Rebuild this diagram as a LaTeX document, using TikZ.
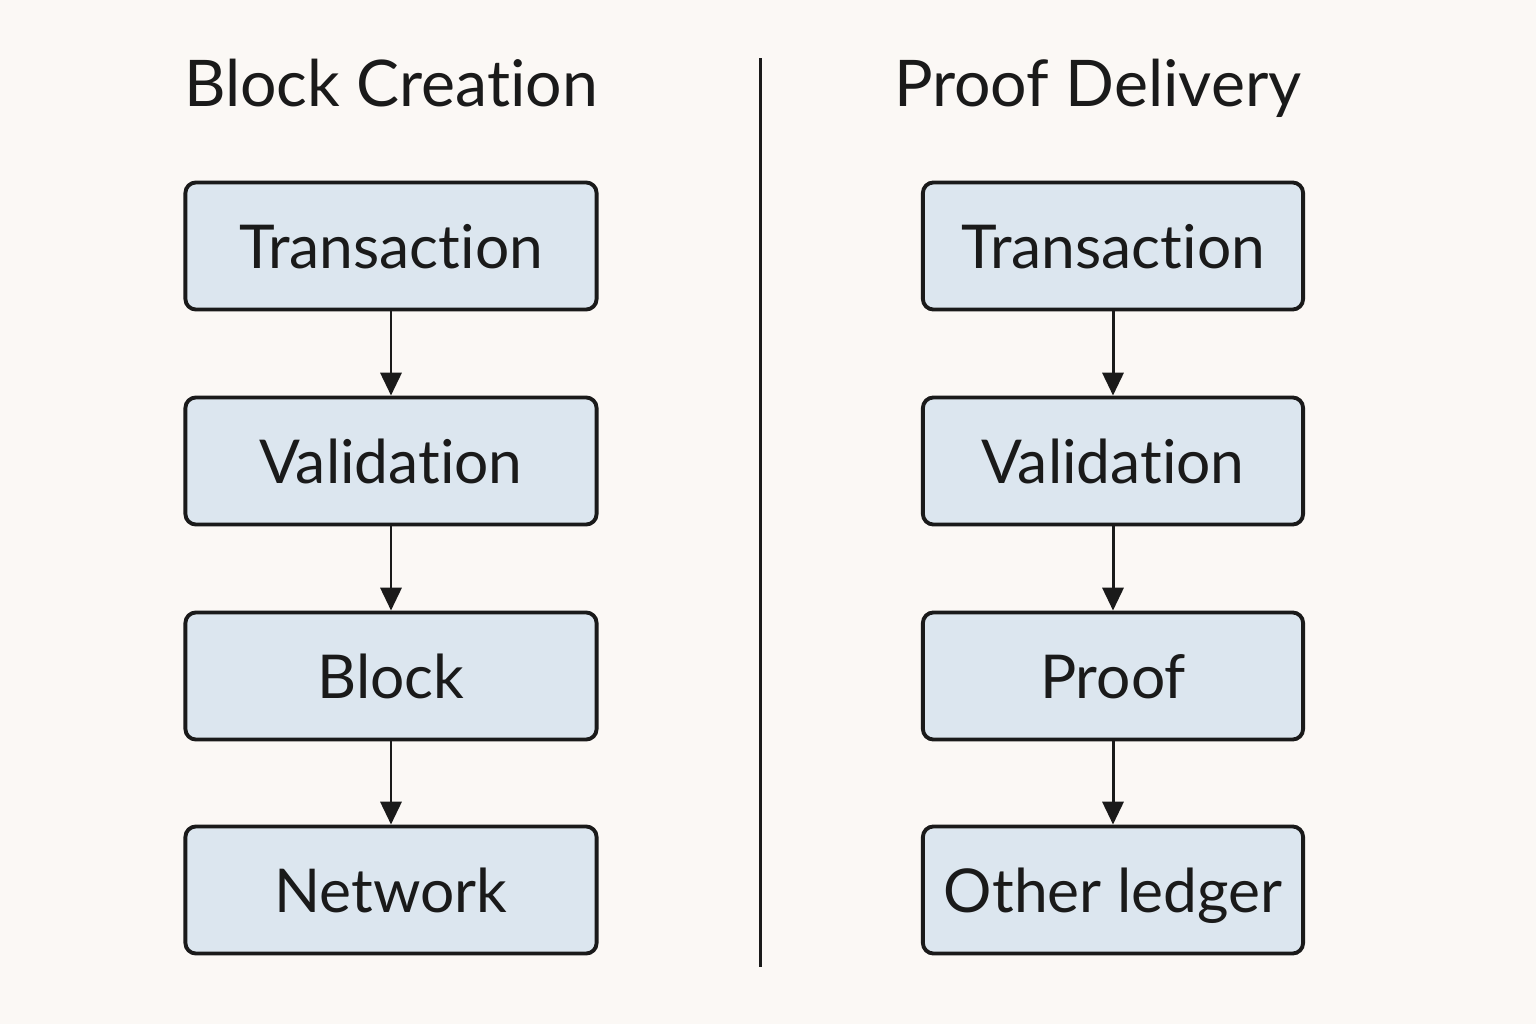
\documentclass[tikz,border=0pt]{standalone}
\usepackage{fontspec}
\setmainfont{Lato}[RawFeature=-liga]
\usetikzlibrary{arrows.meta}
\definecolor{bgc}{HTML}{FBF8F5}
\definecolor{boxc}{HTML}{DCE6EF}
\definecolor{inkc}{HTML}{1A1A1A}
\begin{document}
\begin{tikzpicture}[x=0.01cm,y=-0.01cm,
  stagebox/.style={draw=inkc, line width=1.1pt, fill=boxc, rounded corners=3pt,
    inner sep=0pt, text height=0.44cm, text depth=0pt,
    font=\fontsize{17.2}{20}\selectfont, text=inkc},
  flowarrow/.style={draw=inkc, line width=0.85pt, -{Triangle[length=6.5pt,width=6pt]}},
  titletext/.style={anchor=base, font=\fontsize{18.3}{22}\selectfont, text=inkc}]
\fill[bgc] (0,0) rectangle (1536,1024);
\useasboundingbox (0,0) rectangle (1536,1024);
% titles
\node[titletext] (t1) at (391,106) {Block Creation};
\node[titletext] (t2) at (1098,106) {Proof Delivery};
% divider
\coordinate (d1) at (760,58);
\coordinate (d2) at (760,967);
\draw[inkc, line width=0.85pt] (d1) -- (d2);
% left column
\foreach \n/\y/\t in {a1/246/Transaction, a2/461/Validation, a3/676/Block, a4/890/Network}{
  \node[stagebox, minimum width=4.11cm, minimum height=1.27cm] (\n) at (391,\y) {\t};
}
% right column
\foreach \n/\y/\t in {b1/246/Transaction, b2/461/Validation, b3/676/Proof, b4/890/Other ledger}{
  \node[stagebox, minimum width=3.80cm, minimum height=1.27cm] (\n) at (1113,\y) {\t};
}
\draw[flowarrow] (a1) -- (a2);
\draw[flowarrow] (a2) -- (a3);
\draw[flowarrow] (a3) -- (a4);
\draw[flowarrow] (b1) -- (b2);
\draw[flowarrow] (b2) -- (b3);
\draw[flowarrow] (b3) -- (b4);
\end{tikzpicture}
\end{document}
